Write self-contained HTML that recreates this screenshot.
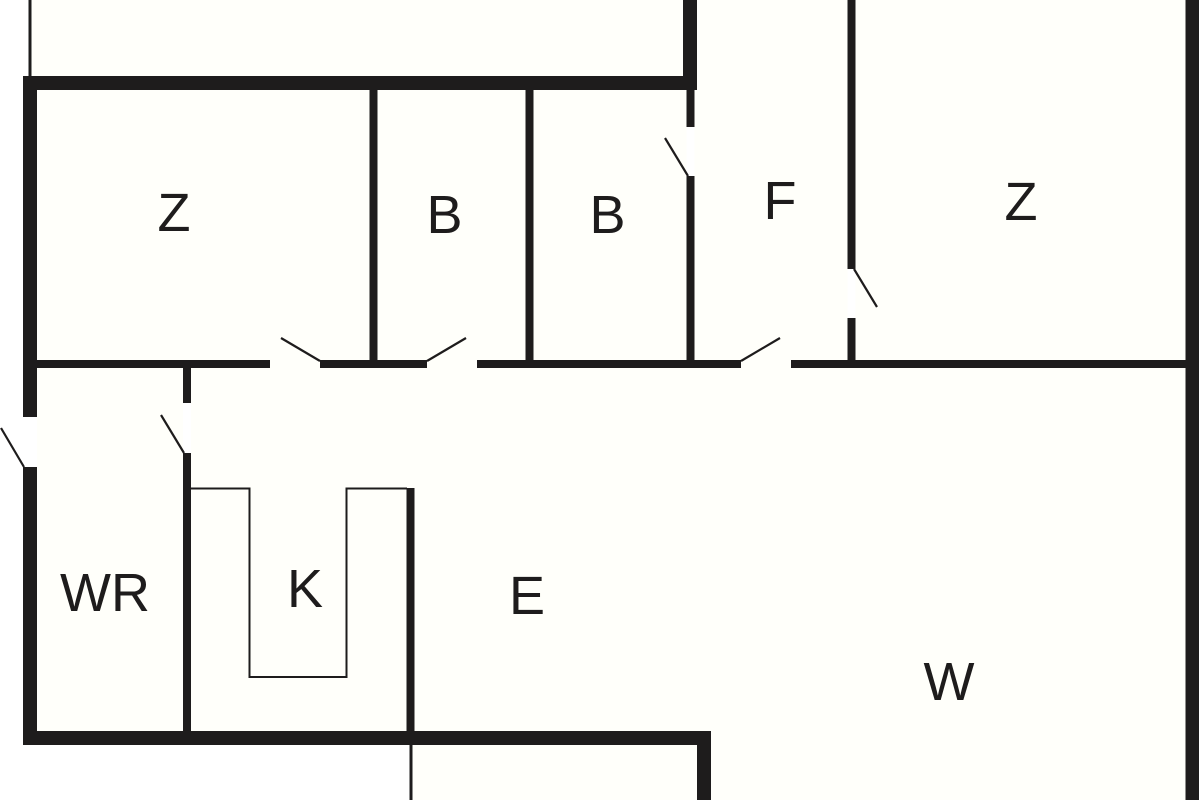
<!DOCTYPE html>
<html>
<head>
<meta charset="utf-8">
<style>
html,body{margin:0;padding:0;background:#fff;}
svg{display:block;}
text{font-family:"Liberation Sans",sans-serif;font-size:54px;fill:#1e1c1c;text-anchor:middle;}
</style>
</head>
<body>
<svg width="1200" height="800" viewBox="0 0 1200 800" xmlns="http://www.w3.org/2000/svg">
<rect width="1200" height="800" fill="#fff"/>
<!-- cream interior -->
<polygon points="30,0 1199,0 1199,800 410,800 410,738 30,738" fill="#fffffa"/>
<g fill="#1e1c1c">
<!-- outer heavy walls -->
<rect x="23" y="76" width="674" height="14"/>
<rect x="683" y="0" width="14" height="90"/>
<rect x="23" y="76" width="14" height="341"/>
<rect x="23" y="467" width="14" height="278"/>
<rect x="23" y="731" width="688" height="14"/>
<rect x="697" y="731" width="14" height="69"/>
<rect x="1185.500" y="0" width="13.500" height="800"/>
<!-- thin top-left and bottom lines -->
<rect x="28.500" y="0" width="3" height="76"/>
<rect x="409.500" y="745" width="3" height="55"/>
<!-- interior walls -->
<rect x="369.500" y="90" width="8" height="270"/>
<rect x="525.500" y="90" width="8" height="270"/>
<rect x="686.500" y="90" width="8" height="37"/>
<rect x="686.500" y="176" width="8" height="184"/>
<rect x="847.500" y="0" width="8" height="269"/>
<rect x="847.500" y="318" width="8" height="42"/>
<rect x="37" y="360" width="233" height="8"/>
<rect x="320" y="360" width="107" height="8"/>
<rect x="477" y="360" width="264" height="8"/>
<rect x="791" y="360" width="395" height="8"/>
<rect x="183" y="368" width="8" height="35"/>
<rect x="183" y="453" width="8" height="278"/>
<rect x="406.500" y="488" width="8" height="243"/>
</g>
<!-- door openings -->
<g fill="#ffffff">
<rect x="23" y="417" width="14" height="50"/>
<rect x="183" y="403" width="8" height="50"/>
<rect x="686.500" y="127" width="8" height="49"/>
<rect x="847.500" y="269" width="8" height="49"/>
</g>
<!-- door leaves -->
<g stroke="#1e1c1c" stroke-width="2.200" fill="none">
<line x1="1" y1="428" x2="24" y2="467"/>
<line x1="161" y1="415" x2="184" y2="453"/>
<line x1="665" y1="138" x2="688" y2="176"/>
<line x1="854" y1="269" x2="877" y2="307"/>
<line x1="281" y1="338" x2="320" y2="361"/>
<line x1="427" y1="361" x2="466" y2="338"/>
<line x1="741" y1="361" x2="780" y2="338"/>
</g>
<!-- kitchen counter -->
<polyline points="191,488.500 249.500,488.500 249.500,677 346.500,677 346.500,488.500 407,488.500" fill="none" stroke="#1e1c1c" stroke-width="2"/>
<!-- labels -->
<text x="174" y="231">Z</text>
<text x="444.500" y="233">B</text>
<text x="607.500" y="233">B</text>
<text x="780" y="219">F</text>
<text x="1021" y="220">Z</text>
<text x="105" y="611">WR</text>
<text x="305" y="607">K</text>
<text x="527" y="614">E</text>
<text x="949" y="700">W</text>
</svg>
</body>
</html>
